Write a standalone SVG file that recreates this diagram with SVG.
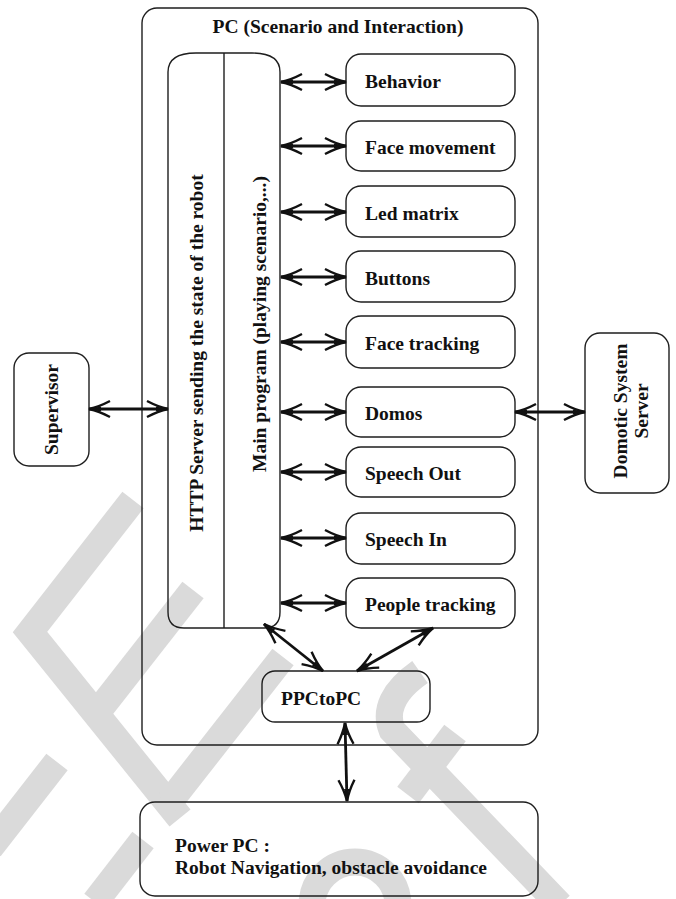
<svg xmlns="http://www.w3.org/2000/svg" width="676" height="899" viewBox="0 0 676 899">
<style>
.box{fill:none;stroke:#1e1e1e;stroke-width:1.4}
.t{font-family:"Liberation Serif","Times New Roman",serif;font-weight:bold;font-size:19.5px;fill:#111}
.c{stroke:#111;stroke-width:2.8;fill:none;marker-start:url(#ah);marker-end:url(#ah)}
.wm{fill:none;stroke:#dadada;stroke-width:27;stroke-linecap:butt;stroke-linejoin:miter}
</style>
<defs>
<marker id="ah" markerUnits="userSpaceOnUse" viewBox="-24 -10 26 20" refX="0" refY="0" markerWidth="26" markerHeight="20" orient="auto-start-reverse">
<path d="M-21,-8 Q-10,-2.2 0,0 Q-10,2.2 -21,8" fill="none" stroke="#111" stroke-width="2.4"/>
<path d="M0.5,0 L-12,-2.6 L-12,2.6 Z" fill="#111"/>
</marker>
</defs>
<g id="watermark">
<polyline class="wm" points="133,500 30,632 180,818"/>
<line class="wm" x1="193" y1="590" x2="96" y2="714"/>
<line class="wm" x1="283" y1="657" x2="168" y2="804"/>
<line class="wm" x1="57" y1="762" x2="-10" y2="848"/>
<line class="wm" x1="143" y1="840" x2="95" y2="902"/>
<path class="wm" d="M420,672 Q380,700 392,730 L560,905"/>
<line class="wm" x1="455" y1="733" x2="408" y2="795"/>
<path class="wm" d="M312,905 A43,43 0 0 1 398,905"/>
</g>
<g id="pc">
<rect class="box" x="142" y="8" width="396" height="737" rx="15"/>
<text class="t" x="338" y="33" text-anchor="middle">PC (Scenario and Interaction)</text>
</g>
<g id="server">
<path class="box" d="M168,72 Q168,53 196,53 L252,53 Q280,53 280,72 L280,612 Q280,628 264,628 L184,628 Q168,628 168,612 Z"/>
<line class="box" x1="224" y1="53" x2="224" y2="628"/>
<text class="t" transform="translate(203,353) rotate(-90)" text-anchor="middle">HTTP Server sending the state of the robot</text>
<text class="t" transform="translate(266,324) rotate(-90)" text-anchor="middle">Main program (playing scenario,...)</text>
</g>
<g id="behavior"><rect class="box" x="346" y="54" width="169" height="52" rx="15"/><text class="t" x="365" y="88">Behavior</text></g>
<g id="face-movement"><rect class="box" x="346" y="121" width="169" height="50" rx="15"/><text class="t" x="365" y="154">Face movement</text></g>
<g id="led-matrix"><rect class="box" x="346" y="186" width="169" height="51" rx="15"/><text class="t" x="365" y="220">Led matrix</text></g>
<g id="buttons"><rect class="box" x="346" y="251" width="169" height="51" rx="15"/><text class="t" x="365" y="285">Buttons</text></g>
<g id="face-tracking"><rect class="box" x="346" y="316" width="169" height="52" rx="15"/><text class="t" x="365" y="350">Face tracking</text></g>
<g id="domos"><rect class="box" x="346" y="387" width="169" height="50" rx="15"/><text class="t" x="365" y="420">Domos</text></g>
<g id="speech-out"><rect class="box" x="346" y="447" width="169" height="50" rx="15"/><text class="t" x="365" y="480">Speech Out</text></g>
<g id="speech-in"><rect class="box" x="346" y="513" width="169" height="51" rx="15"/><text class="t" x="365" y="546">Speech In</text></g>
<g id="people-tracking"><rect class="box" x="346" y="578" width="169" height="50" rx="15"/><text class="t" x="365" y="611">People tracking</text></g>
<g id="supervisor"><rect class="box" x="14" y="353" width="75" height="113" rx="15"/><text class="t" transform="translate(58,409.5) rotate(-90)" text-anchor="middle">Supervisor</text></g>
<g id="domotic"><rect class="box" x="585" y="333" width="84" height="160" rx="15"/>
<text class="t" transform="translate(627,411) rotate(-90)" text-anchor="middle">Domotic System</text>
<text class="t" transform="translate(648,411) rotate(-90)" text-anchor="middle">Server</text></g>
<g id="ppctopc"><rect class="box" x="262" y="671" width="168" height="51" rx="13"/><text class="t" x="281" y="705">PPCtoPC</text></g>
<g id="powerpc"><rect class="box" x="140" y="802" width="398" height="94" rx="15"/>
<text class="t" x="175" y="852">Power PC :</text>
<text class="t" x="175" y="874">Robot Navigation, obstacle avoidance</text></g>
<g id="connectors">
<line class="c" x1="281" y1="82" x2="346" y2="82"/>
<line class="c" x1="281" y1="146" x2="346" y2="146"/>
<line class="c" x1="281" y1="212" x2="346" y2="212"/>
<line class="c" x1="281" y1="277" x2="346" y2="277"/>
<line class="c" x1="281" y1="342" x2="346" y2="342"/>
<line class="c" x1="281" y1="412" x2="346" y2="412"/>
<line class="c" x1="281" y1="472" x2="346" y2="472"/>
<line class="c" x1="281" y1="538" x2="346" y2="538"/>
<line class="c" x1="281" y1="603" x2="346" y2="603"/>
<line class="c" x1="89" y1="409" x2="168" y2="409"/>
<line class="c" x1="515" y1="412" x2="585" y2="412"/>
<line class="c" x1="264" y1="624" x2="323" y2="671"/>
<line class="c" x1="433" y1="628" x2="357" y2="671"/>
<line class="c" x1="345" y1="723" x2="347" y2="801"/>
</g>
</svg>
